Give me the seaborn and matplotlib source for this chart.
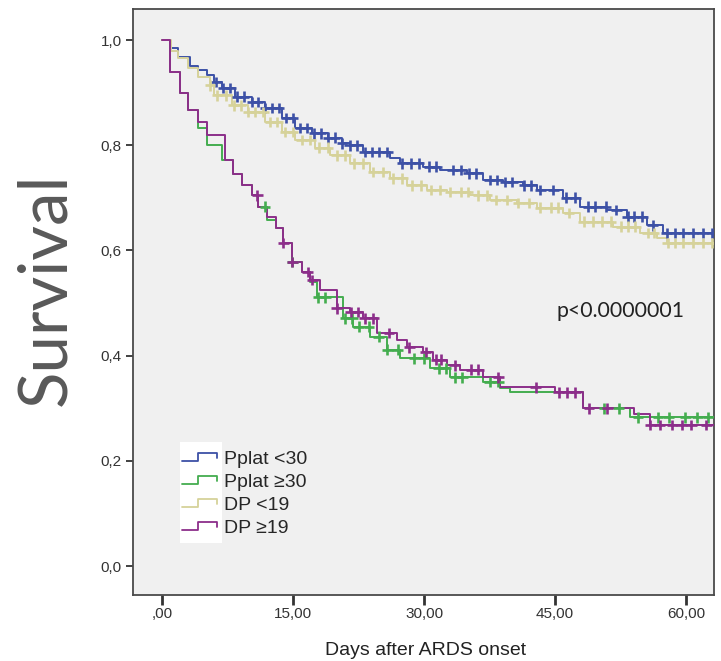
import numpy as np
import pandas as pd
import matplotlib
matplotlib.use("Agg")
import matplotlib.pyplot as plt
import seaborn as sns
from matplotlib.legend_handler import HandlerBase
from matplotlib.lines import Line2D
from matplotlib.patches import Rectangle

# ---------------- data ----------------
groups = ["Pplat <30", "Pplat \u226530", "DP <19", "DP \u226519"]
colors = ["#3d51a6", "#44ad4f", "#d6d29a", "#8c2e8a"]

# Pplat <30
t_pl_lo = [0, 0.9, 1.8, 3.2, 4.1, 5.2, 6.0, 6.9, 8.4, 10.3, 11.8, 13.7, 15.2, 17.2, 19.0,
           20.6, 21.5, 23.0, 26.1, 27.3, 29.9, 31.8, 34.9, 36.8, 39.0, 41.3, 42.9, 45.9,
           47.9, 51.0, 53.2, 55.5, 57.4, 63.2]
s_pl_lo = [1.0, 0.985, 0.968, 0.95, 0.943, 0.933, 0.92, 0.909, 0.892, 0.882, 0.871, 0.852,
           0.833, 0.823, 0.814, 0.804, 0.80, 0.787, 0.776, 0.766, 0.759, 0.753, 0.747, 0.734,
           0.73, 0.724, 0.715, 0.70, 0.683, 0.677, 0.664, 0.648, 0.633, 0.633]
c_pl_lo = [6.2, 7.0, 7.8, 8.6, 9.4, 10.3, 11.0, 11.8, 12.6, 13.4, 14.2, 15.0, 15.8, 16.6,
           17.4, 18.2, 19.0, 19.8, 20.6, 21.5, 22.3, 23.2, 24.0, 24.9, 25.8, 27.5, 28.5,
           29.4, 30.6, 31.4, 33.3, 34.2, 35.1, 36.0, 37.5, 38.3, 39.3, 40.1, 41.5, 42.3,
           43.3, 44.8, 46.3, 47.3, 48.8, 49.6, 50.8, 52.0, 53.3, 54.0, 55.0, 56.2, 57.8,
           58.7, 59.7, 60.8, 61.9, 63.0]

# Pplat >=30
t_pl_hi = [0, 0.9, 2.1, 3.0, 4.1, 5.2, 6.9, 8.1, 9.2, 10.3, 11.0, 12.0, 13.0, 13.9, 14.9,
           16.0, 17.0, 17.7, 20.7, 21.9, 23.8, 25.8, 27.3, 30.7, 33.0, 36.8, 38.7, 39.8,
           48.2, 53.6, 63.2]
s_pl_hi = [1.0, 0.94, 0.899, 0.867, 0.833, 0.80, 0.772, 0.745, 0.724, 0.705, 0.683, 0.658,
           0.643, 0.614, 0.578, 0.559, 0.54, 0.511, 0.471, 0.455, 0.436, 0.411, 0.395,
           0.376, 0.359, 0.35, 0.338, 0.331, 0.30, 0.283, 0.283]
c_pl_hi = [11.8, 14.9, 17.9, 18.7, 21.0, 21.8, 22.5, 23.7, 24.8, 25.8, 27.0, 28.9, 30.0,
           31.7, 32.5, 33.6, 34.4, 37.5, 38.5, 50.6, 52.3, 54.5, 56.8, 58.0, 59.9, 61.3, 62.5]

# DP <19
t_dp_lo = [0, 1.0, 1.8, 3.0, 4.1, 5.5, 6.0, 8.0, 9.8, 11.8, 13.7, 15.2, 17.5, 19.2, 21.5,
           23.8, 26.1, 28.0, 30.3, 32.6, 35.3, 37.6, 40.6, 42.9, 45.9, 47.9, 51.6, 54.7,
           56.7, 57.8, 63.2]
s_dp_lo = [1.0, 0.98, 0.966, 0.947, 0.93, 0.914, 0.895, 0.876, 0.863, 0.844, 0.825, 0.81,
           0.795, 0.781, 0.766, 0.749, 0.737, 0.724, 0.715, 0.711, 0.705, 0.696, 0.69,
           0.681, 0.671, 0.655, 0.645, 0.633, 0.624, 0.614, 0.614]
c_dp_lo = [5.5, 6.3, 7.3, 8.2, 9.0, 9.9, 10.7, 11.6, 12.4, 13.2, 14.1, 15.0, 16.0, 17.0,
           18.0, 19.0, 20.0, 21.0, 22.0, 23.0, 24.2, 25.3, 26.5, 27.5, 28.6, 29.6, 30.8,
           31.8, 33.0, 34.2, 35.0, 36.2, 37.2, 38.2, 39.5, 40.8, 42.0, 43.3, 44.5, 45.3,
           46.6, 48.3, 49.3, 50.4, 51.4, 52.6, 53.4, 54.2, 55.6, 56.3, 57.9, 58.7, 59.7,
           60.8, 61.9, 63.0]

# DP >=19
t_dp_hi = [0, 0.9, 2.1, 3.0, 4.1, 5.2, 7.2, 8.1, 9.2, 10.3, 11.0, 12.0, 13.0, 13.9, 14.9,
           16.0, 17.0, 18.1, 20.0, 21.5, 23.0, 24.6, 26.9, 28.0, 29.9, 31.0, 32.6, 34.1,
           36.8, 38.7, 45.0, 48.2, 54.0, 55.9, 63.2]
s_dp_hi = [1.0, 0.94, 0.899, 0.867, 0.844, 0.82, 0.772, 0.745, 0.724, 0.705, 0.683, 0.664,
           0.643, 0.614, 0.578, 0.559, 0.544, 0.525, 0.49, 0.483, 0.471, 0.443, 0.43,
           0.416, 0.407, 0.392, 0.382, 0.373, 0.359, 0.34, 0.33, 0.30, 0.29, 0.268, 0.268]
c_dp_hi = [10.9, 13.9, 14.9, 16.7, 17.2, 20.0, 21.6, 22.4, 23.2, 24.2, 26.0, 28.3, 30.2,
           31.4, 32.0, 33.5, 35.4, 36.2, 38.5, 42.8, 45.4, 46.4, 47.3, 48.9, 51.0, 55.9,
           57.0, 58.4, 59.5, 60.6, 62.3]

yticks = [0.0, 0.2, 0.4, 0.6, 0.8, 1.0]
ytick_labels = ["0,0", "0,2", "0,4", "0,6", "0,8", "1,0"]
xticks = [0, 15, 30, 45, 60]
xtick_labels = [",00", "15,00", "30,00", "45,00", "60,00"]
p_text = "p<0.0000001"

# ---------------- tables ----------------
steps = {groups[0]: (t_pl_lo, s_pl_lo, c_pl_lo),
         groups[1]: (t_pl_hi, s_pl_hi, c_pl_hi),
         groups[2]: (t_dp_lo, s_dp_lo, c_dp_lo),
         groups[3]: (t_dp_hi, s_dp_hi, c_dp_hi)}

line_rows, cens_rows = [], []
for g, (t, s, c) in steps.items():
    for ti, si in zip(t, s):
        line_rows.append((g, ti, si))
    t_arr, s_arr = np.asarray(t), np.asarray(s)
    for ci in c:
        idx = np.searchsorted(t_arr, ci, side="right") - 1
        cens_rows.append((g, ci, s_arr[idx]))
df_line = pd.DataFrame(line_rows, columns=["group", "day", "surv"])
df_cens = pd.DataFrame(cens_rows, columns=["group", "day", "surv"])
palette = dict(zip(groups, colors))

# ---------------- figure ----------------
sns.set_theme(style="ticks")
fig = plt.figure(figsize=(7.21, 6.61), dpi=100)
fig.patch.set_facecolor("white")
ax = fig.add_axes([133 / 721, 66 / 661, 581 / 721, 586 / 661])
ax.set_facecolor("#f0f0f0")

sns.lineplot(data=df_line, x="day", y="surv", hue="group", hue_order=groups,
             palette=palette, drawstyle="steps-post", estimator=None, sort=False,
             linewidth=1.4, legend=False, ax=ax, zorder=3)
sns.scatterplot(data=df_cens, x="day", y="surv", hue="group", hue_order=groups,
                palette=palette, marker="+", s=60, linewidth=1.9, legend=False,
                ax=ax, zorder=4)

ax.set_xlim(-3.32, 63.2)
ax.set_ylim(-0.055, 1.059)
ax.set_xticks(xticks)
ax.set_xticklabels(xtick_labels, fontfamily="Liberation Sans", fontsize=11, color="#333333")
ax.set_yticks(yticks)
ax.set_yticklabels(ytick_labels, fontfamily="Liberation Sans", fontsize=11, color="#333333")
ax.tick_params(axis="y", length=5, width=1.3, color="#333333", pad=3)
ax.tick_params(axis="x", length=7, width=2.0, color="#333333", pad=1.5)
for sp in ax.spines.values():
    sp.set_visible(True)
    sp.set_color("#4a4a4a")
    sp.set_linewidth(1.3)

ax.set_xlabel("Days after ARDS onset", fontfamily="Liberation Sans", fontsize=14,
              color="#222222")
ax.xaxis.set_label_coords(0.504, -0.094)
ax.xaxis.label.set_va("center")
ax.set_ylabel("Survival", fontfamily="Lato", fontsize=48.5, color="#595959")
ax.yaxis.set_label_coords(-0.149, 0.522)
ax.yaxis.label.set_va("center")

ax.text(0.839, (595 - 311) / 586, p_text, transform=ax.transAxes,
        ha="center", va="center", fontfamily="Lato", fontsize=15.3, color="#222222")

# legend with step-shaped handles
class StepHandler(HandlerBase):
    def create_artists(self, legend, orig_handle, xdescent, ydescent, width, height,
                       fontsize, trans):
        xs = np.array([0, 0.45, 0.45, 1.0, 1.0]) * width - xdescent
        ys = np.array([0.2, 0.2, 0.8, 0.8, 0.45]) * height - ydescent
        ln = Line2D(xs, ys, color=orig_handle.get_color(),
                    lw=orig_handle.get_linewidth())
        ln.set_transform(trans)
        return [ln]

ax.add_patch(Rectangle((0.081, 0.0887), 0.072, 0.172, transform=ax.transAxes,
                       facecolor="white", edgecolor="none", zorder=2))
handles = [Line2D([], [], color=c, lw=1.3) for c in colors]
leg = ax.legend(handles, groups, handler_map={Line2D: StepHandler()}, frameon=False,
                loc="upper left", bbox_to_anchor=(0.084, 0.247),
                prop={"family": "Liberation Sans", "size": 14},
                handlelength=1.8, handletextpad=0.35, labelspacing=0.28,
                borderpad=0, borderaxespad=0)
leg.set_zorder(6)

fig.savefig("out.png", dpi=100, facecolor="white")
